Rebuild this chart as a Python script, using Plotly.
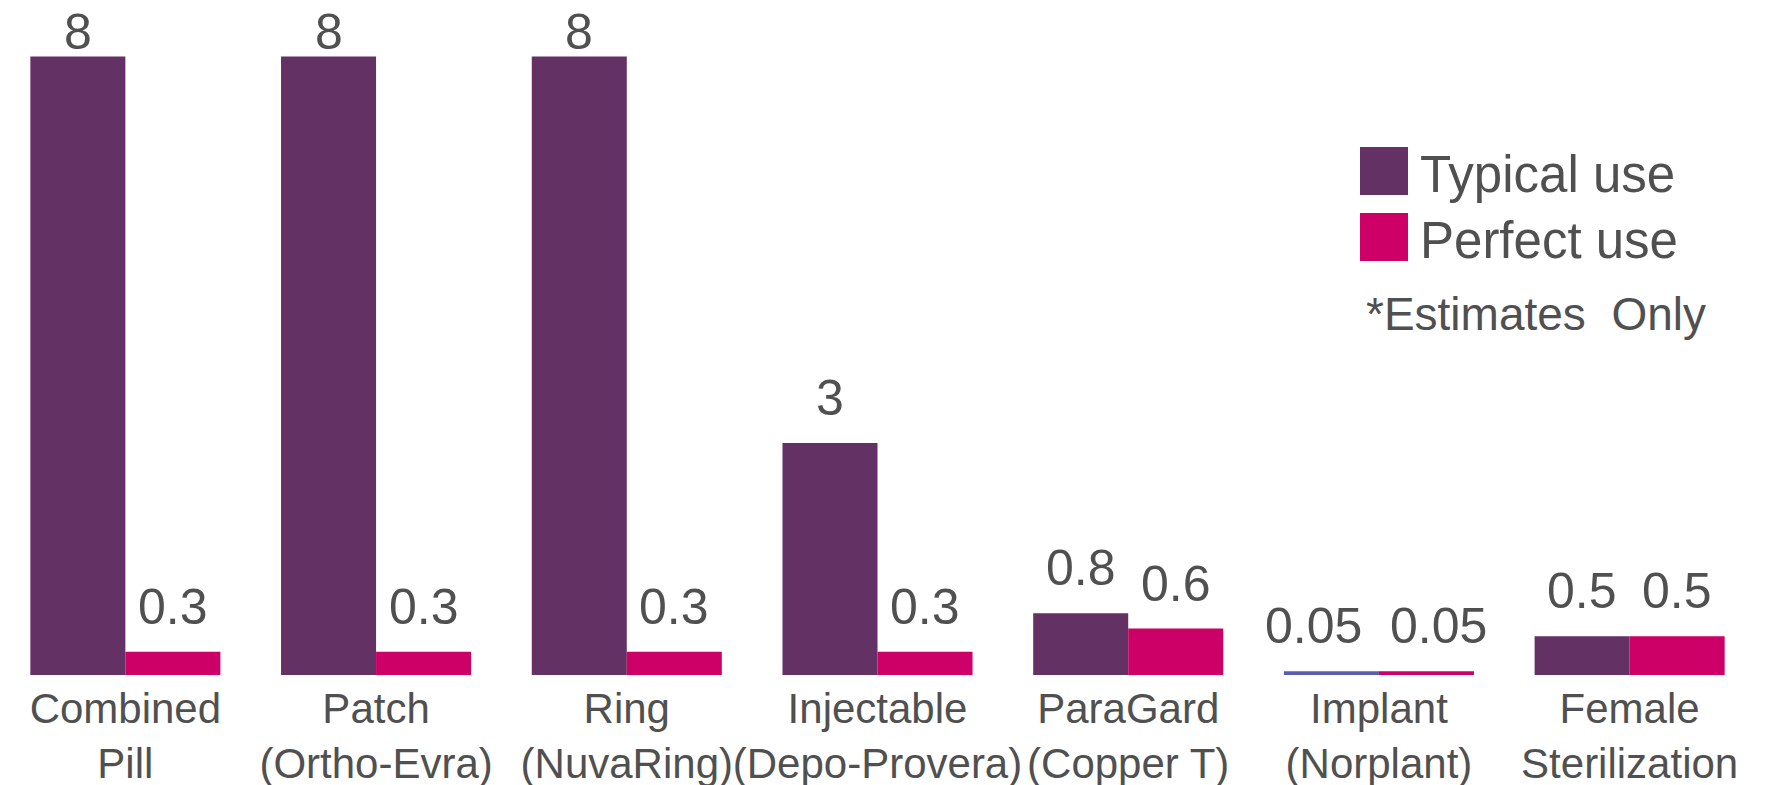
import plotly.graph_objects as go

categories = ["Combined<br>Pill", "Patch<br>(Ortho-Evra)", "Ring<br>(NuvaRing)",
              "Injectable<br>(Depo-Provera)", "ParaGard<br>(Copper T)",
              "Implant<br>(Norplant)", "Female<br>Sterilization"]
typical_use = [8, 8, 8, 3, 0.8, 0.05, 0.5]
perfect_use = [0.3, 0.3, 0.3, 0.3, 0.6, 0.05, 0.5]

PURPLE = "#643164"
PINK = "#CC0066"
BLUE = "#5B5BAF"
TEXT = "#505050"
FONT = "Liberation Sans, Arial, sans-serif"

typical_colors = [PURPLE] * 5 + [BLUE] + [PURPLE]

W, H = 1766, 785
ML, MR, MT, MB = 0, 11, 20, 110
PW, PH = W - ML - MR, H - MT - MB
PX_PER_UNIT = 77.3
BARGAP = 0.242
CAT_W = PW / len(categories)
BAR_W = CAT_W * (1 - BARGAP) / 2

fig = go.Figure()
fig.add_trace(go.Bar(x=categories, y=typical_use, name="Typical use",
                     marker=dict(color=typical_colors, line=dict(width=0)),
                     showlegend=False, hoverinfo="x+y"))
fig.add_trace(go.Bar(x=categories, y=perfect_use, name="Perfect use",
                     marker=dict(color=PINK, line=dict(width=0)),
                     showlegend=False, hoverinfo="x+y"))


def fmt(v):
    return f"{v:g}"


# value labels above each bar
LABEL_GAP = 45      # px from bar top to label centre
LABEL_MIN_Y = 32    # label centre can't go higher than this (px from top)
spread = {"Implant<br>(Norplant)": (-18, 12)}
for series, sign in ((typical_use, -1), (perfect_use, 1)):
    for cat, v in zip(categories, series):
        bar_top = MT + PH - v * PX_PER_UNIT
        ysh = min(LABEL_GAP, bar_top - LABEL_MIN_Y)
        extra = spread.get(cat, (0, 0))[0 if sign < 0 else 1]
        fig.add_annotation(x=cat, y=v, xref="x", yref="y", text=fmt(v),
                           showarrow=False, xanchor="center", yanchor="middle",
                           xshift=sign * BAR_W / 2 + extra, yshift=ysh,
                           font=dict(size=50, color=TEXT, family=FONT))


def px_x(p):
    return (p - ML) / PW


def px_y(p):
    return (H - MB - p) / PH


# manual legend
legend_items = [("Typical use", PURPLE, 147), ("Perfect use", PINK, 213)]
for label, color, top in legend_items:
    fig.add_shape(type="rect", xref="paper", yref="paper",
                  x0=px_x(1360), x1=px_x(1408), y0=px_y(top + 48), y1=px_y(top),
                  fillcolor=color, line=dict(width=0))
    fig.add_annotation(xref="paper", yref="paper", x=px_x(1418), y=px_y(top + 28),
                       text=label, showarrow=False, xanchor="left", yanchor="middle",
                       font=dict(size=51, color=TEXT, family=FONT))
fig.add_annotation(xref="paper", yref="paper", x=px_x(1364), y=px_y(314),
                   text="*Estimates&nbsp; Only", showarrow=False, xanchor="left",
                   yanchor="middle", font=dict(size=46, color=TEXT, family=FONT))

fig.update_layout(
    width=W, height=H,
    margin=dict(l=ML, r=MR, t=MT, b=MB, pad=0, autoexpand=False),
    paper_bgcolor="white", plot_bgcolor="white",
    barmode="group", bargap=BARGAP, bargroupgap=0.0,
    font=dict(family=FONT, color=TEXT),
    showlegend=False,
)
fig.update_xaxes(showgrid=False, zeroline=False, showline=False, ticks="",
                 tickangle=0, automargin=False, ticklabelstandoff=5,
                 range=[-0.5, len(categories) - 0.5],
                 tickfont=dict(size=42, color=TEXT, family=FONT))
fig.update_yaxes(visible=False, range=[0, PH / PX_PER_UNIT], showgrid=False,
                 zeroline=False, automargin=False)

fig.write_html("out.html", config={"displayModeBar": False},
               post_script="document.body.style.margin='0';document.body.style.overflow='hidden';")
